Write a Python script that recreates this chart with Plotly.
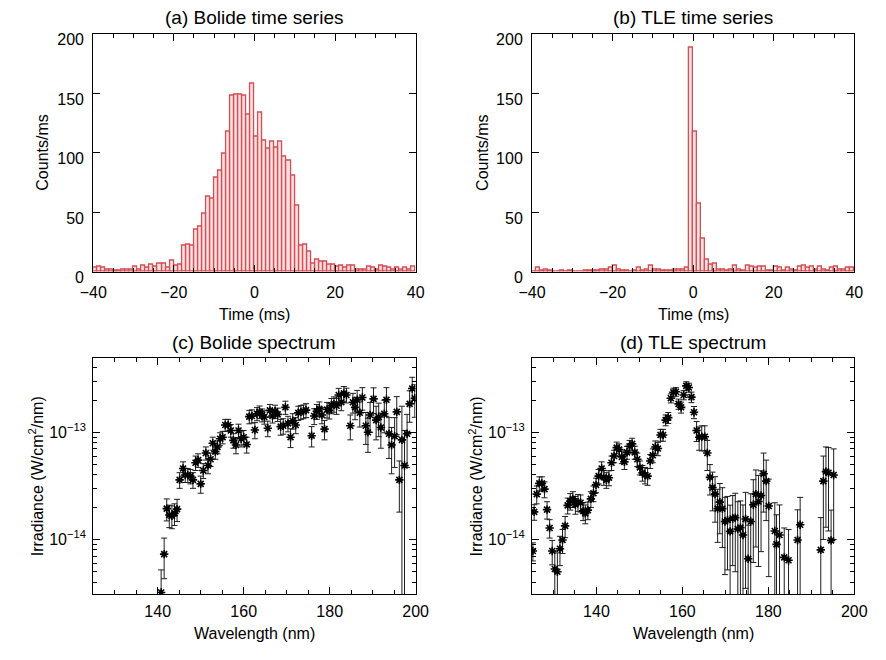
import plotly.graph_objects as go

# ---------------- data ----------------
TIME_BIN_START = list(range(-40, 40))  # 1 ms bins, left edges (ms)

BOLIDE_COUNTS = [3, 4, 3, 2, 2, 1, 1, 2, 2, 2,
                 4, 2, 5, 3, 6, 4, 7, 7, 3, 9,
                 5, 6, 22, 23, 22, 35, 38, 49, 63, 61,
                 79, 85, 99, 118, 148, 149, 149, 148, 132, 158,
                 113, 134, 110, 103, 109, 104, 109, 97, 93, 81,
                 55, 22, 23, 17, 7, 10, 8, 8, 6, 6,
                 4, 5, 3, 5, 5, 2, 2, 2, 4, 3,
                 2, 5, 4, 3, 2, 3, 2, 3, 2, 4]

TLE_COUNTS = [0, 3, 1, 2, 1, 0, 0, 1, 0, 1,
              0, 0, 0, 1, 1, 1, 1, 2, 2, 3,
              5, 2, 1, 1, 0, 1, 3, 1, 2, 5,
              2, 2, 1, 1, 1, 2, 2, 2, 3, 188,
              118, 57, 28, 10, 6, 7, 2, 2, 1, 2,
              5, 2, 1, 5, 4, 3, 4, 4, 1, 1,
              4, 3, 1, 3, 2, 1, 4, 5, 3, 4,
              2, 4, 2, 1, 3, 4, 2, 2, 3, 3]

IRR_UNIT = 1e-14  # spectrum values below are in units of 1e-14 W/cm^2/nm

BOLIDE_WL = [140.8, 141.5, 142.1, 142.7, 143.3, 143.9, 144.5, 145.1, 145.9, 146.4,
             147.0, 147.6, 148.2, 148.8, 149.4, 150.0, 150.6, 151.2, 151.7, 152.3,
             152.8, 153.4, 153.9, 154.5, 155.1, 155.7, 156.4, 157.0, 157.6, 158.2,
             158.8, 159.4, 160.0, 160.7, 161.3, 161.9, 162.6, 163.1, 163.7, 164.3,
             164.8, 165.6, 166.1, 166.7, 167.3, 167.9, 168.6, 169.2, 169.7, 170.3,
             170.9, 171.4, 172.1, 172.7, 173.3, 173.9, 174.5, 175.8, 176.4, 177.0,
             177.6, 178.2, 178.8, 179.4, 179.9, 180.4, 181.0, 181.6, 182.1, 182.7,
             183.3, 183.9, 184.8, 185.4, 185.9, 186.4, 187.0, 187.6, 188.4, 188.9,
             189.4, 190.2, 190.8, 191.4, 191.9, 192.7, 193.2, 193.8, 194.4, 195.1,
             195.6, 196.2, 196.8, 197.4, 198.0, 198.6, 199.2, 199.8]
BOLIDE_IRR = [0.32, 0.73, 1.94, 1.69, 1.66, 1.75, 1.92, 3.6, 4.6, 4.0,
              4.0, 3.9, 3.6, 5.2, 5.5, 3.3, 4.4, 6.4, 4.9, 5.6,
              7.9, 6.6, 7.3, 8.7, 9.0, 11.7, 11.7, 10.4, 8.4, 7.6,
              10.4, 8.7, 9.0, 7.7, 14.0, 14.2, 10.5, 14.9, 15.5, 14.5,
              13.9, 10.9, 16.0, 14.2, 15.7, 14.7, 11.3, 11.5, 17.1, 12.1,
              9.0, 12.8, 11.7, 15.2, 15.5, 15.7, 16.1, 9.3, 14.2, 15.7,
              16.6, 14.5, 10.7, 16.3, 16.0, 17.8, 18.4, 17.7, 22.3, 19.1,
              23.1, 22.3, 11.5, 19.1, 17.1, 20.1, 15.2, 21.1, 11.5, 10.0,
              14.5, 20.5, 13.0, 13.9, 11.1, 14.9, 20.1, 9.7, 7.6, 9.2,
              15.5, 3.6, 8.5, 4.9, 9.7, 18.4, 25.6, 20.8]
BOLIDE_ERR = [0.2, 0.3, 0.45, 0.4, 0.4, 0.4, 0.45, 0.6, 0.7, 0.6,
              0.6, 0.6, 0.6, 0.8, 0.8, 0.6, 0.7, 0.9, 0.8, 0.8,
              1.1, 1.0, 1.0, 1.2, 1.2, 1.5, 1.5, 1.4, 1.3, 1.3,
              1.5, 1.4, 1.4, 1.3, 2.0, 2.0, 1.8, 2.1, 2.1, 2.0,
              2.0, 1.8, 2.2, 2.0, 2.2, 2.1, 1.9, 1.9, 2.4, 2.0,
              1.8, 2.1, 2.0, 2.3, 2.3, 2.3, 2.4, 2.0, 2.4, 2.5,
              2.6, 2.5, 2.2, 2.7, 2.7, 2.9, 3.0, 3.0, 3.4, 3.2,
              3.6, 3.5, 3.0, 4.0, 4.0, 4.5, 4.0, 5.0, 3.8, 3.5,
              4.5, 5.5, 4.5, 4.8, 4.0, 5.0, 6.0, 4.0, 3.5, 4.5,
              6.0, 1.8, 9.0, 5.5, 5.0, 6.0, 7.0, 7.0]

TLE_WL = [125.2, 125.5, 126.1, 126.7, 127.3, 127.9, 128.5, 129.1, 129.7, 130.3,
          130.9, 131.5, 132.1, 132.7, 133.3, 133.9, 134.5, 135.1, 135.7, 136.3,
          136.9, 137.4, 138.0, 138.7, 139.3, 139.9, 140.5, 141.2, 141.7, 142.3,
          142.9, 143.5, 144.1, 144.7, 145.3, 145.9, 146.5, 147.1, 147.7, 148.3,
          148.9, 149.5, 150.1, 150.7, 151.3, 151.9, 152.5, 153.1, 153.7, 154.3,
          154.9, 155.5, 156.1, 156.7, 157.3, 157.9, 158.5, 159.1, 159.7, 160.3,
          160.9, 161.5, 162.1, 162.7, 163.3, 163.9, 164.5, 165.2, 165.8, 166.4,
          167.0, 167.6, 168.2, 168.7, 169.3, 169.9, 170.5, 171.1, 171.7, 172.3,
          172.9, 173.5, 174.1, 174.7, 175.3, 175.9, 176.5, 177.1, 177.7, 178.3,
          178.9, 179.5, 180.1, 181.5, 181.9, 182.6, 183.7, 184.7, 186.8, 187.4,
          192.2, 192.8, 193.4, 194.0, 194.6, 195.2]
TLE_IRR = [0.78, 1.81, 2.65, 3.34, 3.34, 2.95, 1.90, 1.28, 0.78, 0.53,
           0.50, 0.82, 0.99, 1.34, 2.08, 2.28, 2.39, 2.12, 2.23, 2.20,
           1.85, 1.75, 1.88, 2.39, 2.70, 3.23, 3.90, 4.60, 3.80, 3.60,
           3.77, 5.2, 6.0, 7.2, 6.9, 5.9, 5.3, 6.5, 7.4, 7.8,
           6.5, 5.6, 4.7, 4.2, 4.0, 3.9, 5.4, 6.1, 7.3, 7.05,
           9.45, 9.45, 13.0, 13.7, 20.8, 23.6, 23.9, 18.4, 17.1, 22.3,
           27.1, 26.2, 21.3, 15.4, 10.4, 9.0, 9.1, 9.1, 6.4, 3.8,
           3.05, 2.65, 1.94, 2.23, 1.94, 1.47, 1.52, 1.19, 1.57, 1.60,
           1.25, 1.29, 1.10, 1.55, 0.66, 1.47, 2.11, 2.65, 2.26, 2.57,
           4.1, 3.5, 2.05, 1.2, 0.90, 1.1, 0.68, 0.64, 0.99, 1.37,
           0.80, 3.5, 4.3, 4.2, 0.98, 4.0]
TLE_ERR = [0.15, 0.3, 0.5, 0.5, 0.5, 0.5, 0.35, 0.25, 0.2, 0.25,
           0.25, 0.25, 0.25, 0.3, 0.35, 0.4, 0.4, 0.4, 0.4, 0.4,
           0.35, 0.35, 0.35, 0.4, 0.45, 0.5, 0.6, 0.7, 0.6, 0.6,
           0.6, 0.8, 0.8, 0.9, 0.9, 0.8, 0.8, 0.9, 1.0, 1.0,
           0.9, 0.8, 0.7, 0.7, 0.7, 0.7, 0.8, 0.9, 1.0, 1.0,
           1.2, 1.2, 1.5, 1.6, 2.0, 2.2, 2.2, 2.0, 2.0, 2.2,
           2.5, 2.5, 2.4, 2.0, 2.2, 2.2, 2.4, 2.4, 2.0, 1.2,
           1.2, 1.2, 1.0, 1.1, 1.1, 1.0, 1.0, 0.9, 1.0, 1.1,
           1.0, 1.0, 1.0, 1.2, 0.7, 1.2, 1.5, 1.8, 1.7, 1.8,
           2.3, 2.0, 1.6, 1.0, 0.8, 1.0, 0.6, 0.6, 0.9, 1.1,
           0.8, 2.5, 3.0, 3.0, 0.9, 3.0]

PANEL_TITLES = ["(a) Bolide time series", "(b) TLE time series",
                "(c) Bolide spectrum", "(d) TLE spectrum"]

# ---------------- style ----------------
FONT = "Liberation Sans, Arial, Helvetica, sans-serif"
W, H = 886, 660
BAR_FILL = "rgba(246,200,200,0.55)"
BAR_LINE = "rgb(214,78,84)"

fig = go.Figure()


def add_hist(counts, xa, ya):
    fig.add_trace(go.Bar(
        x=TIME_BIN_START, y=counts, width=1, offset=0,
        marker=dict(color=BAR_FILL, line=dict(color=BAR_LINE, width=1.3)),
        xaxis=xa, yaxis=ya, showlegend=False, hoverinfo="x+y"))


def add_spec(wl, irr, err, xa, ya):
    fig.add_trace(go.Scatter(
        x=wl, y=[v * IRR_UNIT for v in irr], mode="markers",
        marker=dict(symbol="asterisk-open", size=7, color="black",
                    line=dict(color="black", width=1.6)),
        error_y=dict(type="data", array=[e * IRR_UNIT for e in err],
                     color="rgb(30,30,30)", thickness=1, width=3),
        xaxis=xa, yaxis=ya, showlegend=False))


add_hist(BOLIDE_COUNTS, "x", "y")
add_hist(TLE_COUNTS, "x2", "y2")
add_spec(BOLIDE_WL, BOLIDE_IRR, BOLIDE_ERR, "x3", "y3")
add_spec(TLE_WL, TLE_IRR, TLE_ERR, "x4", "y4")

tickfont = dict(family=FONT, size=16, color="black")
common = dict(showline=True, linecolor="black", linewidth=1, mirror="ticks",
              ticks="inside", ticklen=7, tickcolor="black", tickwidth=1,
              showgrid=False, zeroline=False, tickfont=tickfont)

XL = [81.7 / W, 414.3 / W]
XR = [534.3 / W, 866.7 / W]
YT = [1 - 276.7 / H, 1 - 32.5 / H]
YB = [1 - 608.0 / H, 1 - 365.0 / H]

time_x = dict(range=[-40, 40], tick0=0, dtick=20, tickformat="d",
              ticklabelstandoff=6,
              minor=dict(dtick=5, ticks="inside", ticklen=4, tickcolor="black"),
              **common)
count_y = dict(range=[0, 200], tick0=0, dtick=50, ticklabelstandoff=5,
               ticklabelshift=6, **common)
wl_x = dict(range=[125, 200], tick0=0, dtick=20, ticklabelstandoff=2,
            minor=dict(dtick=5, ticks="inside", ticklen=4, tickcolor="black"),
            **common)
minor_log = [m * 10.0 ** e for e in (-15, -14, -13) for m in range(2, 10)]
irr_y = dict(type="log", range=[-14.512, -12.303],
             tickmode="array", tickvals=[1e-14, 1e-13],
             ticktext=["10<sup>\u221214</sup>", "10<sup>\u221213</sup>"],
             ticklabelstandoff=3,
             minor=dict(tickmode="array", tickvals=minor_log, ticks="inside",
                        ticklen=4, tickcolor="black"),
             **common)

fig.update_layout(
    width=W, height=H, margin=dict(l=0, r=0, t=0, b=0),
    paper_bgcolor="white", plot_bgcolor="white",
    bargap=0, barmode="overlay",
    font=dict(family=FONT, size=16, color="black"),
    xaxis=dict(domain=XL, anchor="y", **time_x),
    yaxis=dict(domain=YT, anchor="x", **count_y),
    xaxis2=dict(domain=XR, anchor="y2", **time_x),
    yaxis2=dict(domain=YT, anchor="x2", **count_y),
    xaxis3=dict(domain=XL, anchor="y3", **wl_x),
    yaxis3=dict(domain=YB, anchor="x3", **irr_y),
    xaxis4=dict(domain=XR, anchor="y4", **wl_x),
    yaxis4=dict(domain=YB, anchor="x4", **irr_y),
)

ann = []
title_font = dict(family=FONT, size=19, color="black")
lab_font = dict(family=FONT, size=16, color="black")
cx = [(XL[0] + XL[1]) / 2, (XR[0] + XR[1]) / 2]
for i, t in enumerate(PANEL_TITLES):
    ann.append(dict(text=t, x=cx[i % 2], y=(1 - 16 / H) if i < 2 else (1 - 350 / H),
                    xref="paper", yref="paper", showarrow=False, font=title_font,
                    xanchor="center", yanchor="middle"))
for c in cx:
    ann.append(dict(text="Time (ms)", x=c, y=1 - 321 / H, xref="paper", yref="paper",
                    showarrow=False, font=lab_font, xanchor="center", yanchor="middle"))
    ann.append(dict(text="Wavelength (nm)", x=c, y=1 - 648 / H, xref="paper", yref="paper",
                    showarrow=False, font=lab_font, xanchor="center", yanchor="middle"))
for xp in (30 / W, 483 / W):
    ann.append(dict(text="Counts/ms", x=xp, y=(YT[0] + YT[1]) / 2, xref="paper", yref="paper",
                    showarrow=False, font=lab_font, textangle=-90,
                    xanchor="center", yanchor="middle"))
for xp in (23 / W, 476 / W):
    ann.append(dict(text="Irradiance (W/cm<sup>2</sup>/nm)", x=xp, y=(YB[0] + YB[1]) / 2,
                    xref="paper", yref="paper", showarrow=False, font=lab_font,
                    textangle=-90, xanchor="center", yanchor="middle"))
fig.update_layout(annotations=ann)

fig.write_html("out.html",
               config={"displayModeBar": False},
               post_script="document.body.style.margin='0';"
                           "document.documentElement.style.overflow='hidden';")
